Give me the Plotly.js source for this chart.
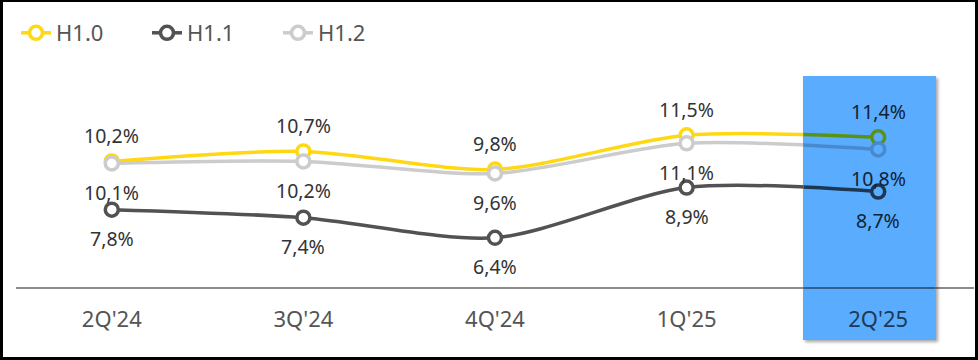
<!DOCTYPE html>
<html>
<head>
<meta charset="utf-8">
<script src="https://cdn.plot.ly/plotly-3.0.1.min.js"></script>
<style>
  html, body { margin: 0; padding: 0; background: #ffffff; }
  #wrap { position: relative; width: 978px; height: 360px; overflow: hidden; }
  .layer { position: absolute; left: 0; top: 0; width: 978px; height: 360px; }
  #shadow { position: absolute; box-shadow: 2px 2px 3px rgba(0,0,0,0.35); }
  #frame { position: absolute; left: 0; top: 0; width: 978px; height: 360px; box-sizing: border-box;
           border: 3px solid #000; border-top-width: 2px; pointer-events: none; }
</style>
</head>
<body>
<div id="wrap">
  <div id="base" class="layer"></div>
  <div id="shadow"></div>
  <div id="hi" class="layer"></div>
  <div id="frame"></div>
</div>
<script>
// ---- data ----
const categories = ["2Q'24", "3Q'24", "4Q'24", "1Q'25", "2Q'25"];
const seriesNames = ["H1.0", "H1.1", "H1.2"];
const h10 = [10.2, 10.7, 9.8, 11.5, 11.4];
const h11 = [7.8, 7.4, 6.4, 8.9, 8.7];
const h12 = [10.1, 10.2, 9.6, 11.1, 10.8];
const highlightCategory = "2Q'25";

// ---- styles ----
const colors = [[255, 216, 20], [82, 82, 82], [204, 204, 204]];
const labelShift = [26, -29, -29];
const FONT = "'Noto Sans', 'Open Sans', sans-serif";
const rectColor = [90, 172, 255];
const labelColor = [51, 51, 51];
const tickColor = [85, 85, 85];
const axisColor = [140, 140, 140];
const white = [255, 255, 255];

const allSeries = [h10, h11, h12];
const W = 978, H = 360;
const margin = { l: 16, r: 4, t: 66, b: 73 };
const yRange = [3.95, 14.95];
const hiIdx = categories.indexOf(highlightCategory);
const hiX = [hiIdx - 0.39, hiIdx + 0.30];
const hiY = [-0.2398, 0.9548];

function fmt(v) { return v.toFixed(1).replace('.', ',') + '%'; }
function rgb(c) { return 'rgb(' + c.map(Math.round).join(',') + ')'; }
function mul(c, m) { return m ? c.map((v, i) => v * m[i] / 255) : c; }

function build(el, tint, withLegend) {
  const traces = allSeries.map((vals, s) => ({
    type: 'scatter',
    mode: 'lines+markers',
    name: seriesNames[s],
    x: categories,
    y: vals,
    line: { color: rgb(mul(colors[s], tint)), width: 3.5, shape: 'spline', smoothing: 0.8 },
    marker: { symbol: 'circle', size: 13, color: rgb(mul(white, tint)),
              line: { color: rgb(mul(colors[s], tint)), width: 3.5 } },
    hoverinfo: 'skip'
  }));
  const annotations = [];
  allSeries.forEach((vals, s) => {
    vals.forEach((v, i) => {
      annotations.push({
        x: categories[i], y: v, xref: 'x', yref: 'y',
        text: fmt(v), showarrow: false,
        yshift: labelShift[s], yanchor: 'middle', xanchor: 'center',
        font: { family: FONT, size: 19.5, color: rgb(mul(labelColor, tint)) }
      });
    });
  });
  const layout = {
    width: W, height: H, margin: margin,
    paper_bgcolor: rgb(mul(white, tint)), plot_bgcolor: 'rgba(0,0,0,0)',
    showlegend: withLegend,
    legend: {
      orientation: 'h', xref: 'container', yref: 'container',
      x: 16 / W, y: 1 - 33 / H, xanchor: 'left', yanchor: 'middle',
      font: { family: FONT, size: 22, color: rgb(tickColor) },
      entrywidth: 86, entrywidthmode: 'pixels',
      bgcolor: 'rgba(0,0,0,0)'
    },
    xaxis: {
      type: 'category', range: [-0.5, categories.length - 0.5],
      showgrid: false, zeroline: false, showline: true,
      linecolor: rgb(mul(axisColor, tint)), linewidth: 1.5,
      ticks: '', ticklabelstandoff: 12,
      tickfont: { family: FONT, size: 22, color: rgb(mul(tickColor, tint)) },
      fixedrange: true
    },
    yaxis: { visible: false, range: yRange, fixedrange: true },
    annotations: annotations
  };
  return Plotly.newPlot(el, traces, layout, { staticPlot: true, displayModeBar: false });
}

build('base', null, true);

// highlight band: same chart, multiplied by the band colour, clipped to the band
const plotW = W - margin.l - margin.r, plotH = H - margin.t - margin.b;
const nCat = categories.length;
const px0 = margin.l + (hiX[0] + 0.5) / nCat * plotW;
const px1 = margin.l + (hiX[1] + 0.5) / nCat * plotW;
const py0 = margin.t + (1 - hiY[1]) * plotH;
const py1 = margin.t + (1 - hiY[0]) * plotH;
const sh = document.getElementById('shadow');
sh.style.left = px0 + 'px'; sh.style.top = py0 + 'px';
sh.style.width = (px1 - px0) + 'px'; sh.style.height = (py1 - py0) + 'px';
sh.style.background = rgb(rectColor);
const hi = document.getElementById('hi');
hi.style.clipPath = 'inset(' + py0 + 'px ' + (W - px1) + 'px ' + (H - py1) + 'px ' + px0 + 'px)';
build('hi', rectColor, false);
</script>
</body>
</html>
